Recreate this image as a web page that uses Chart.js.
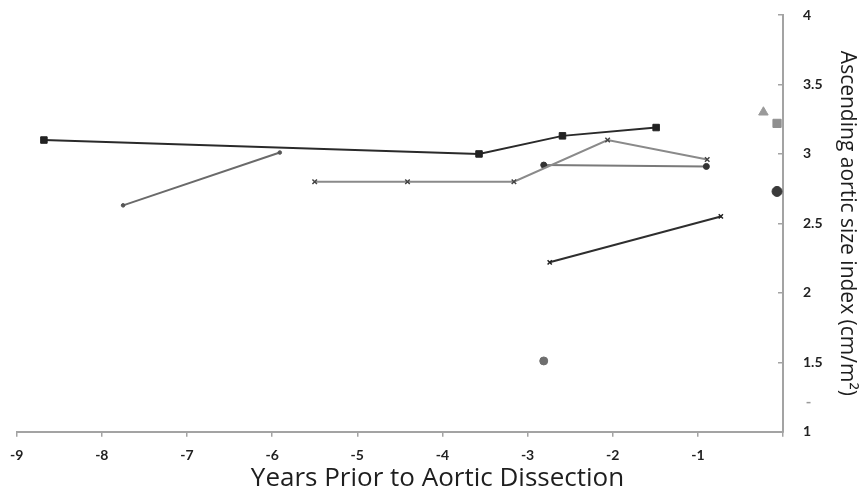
<!DOCTYPE html>
<html>
<head>
<meta charset="utf-8">
<script src="https://cdn.jsdelivr.net/npm/chart.js@4/dist/chart.umd.min.js"></script>
<style>
  html, body { margin: 0; padding: 0; background: #fff; }
  #wrap { width: 860px; height: 494px; }
</style>
</head>
<body>
<div id="wrap"><canvas id="c" width="860" height="494"></canvas></div>
<script>
// ---- data ----
const xTicks = [-9, -8, -7, -6, -5, -4, -3, -2, -1, 0];
const yTicks = [1, 1.5, 2, 2.5, 3, 3.5, 4];

const s1x = [-8.68, -3.57, -2.59, -1.49];
const s1y = [3.10, 3.00, 3.13, 3.19];

const s2x = [-7.75, -5.91];
const s2y = [2.63, 3.01];

const s3x = [-5.50, -4.41, -3.16, -2.06, -0.89];
const s3y = [2.80, 2.80, 2.80, 3.10, 2.96];

const s4x = [-2.81, -0.90];
const s4y = [2.92, 2.91];

const s5x = [-2.74, -0.73];
const s5y = [2.22, 2.55];

const triX = [-0.23], triY = [3.30];
const sqX = [-0.07], sqY = [3.22];
const dotX = [-0.07], dotY = [2.73];
const lowX = [-2.81], lowY = [1.51];
const dashX = [0.30], dashY = [1.21];

const xTitle = 'Years Prior to Aortic Dissection';
const yTitle = 'Ascending aortic size index (cm/m\u00B2)';

function pts(xs, ys) { return xs.map((x, i) => ({ x: x, y: ys[i] })); }

const TICKFONT = 'Lato, "Noto Sans", sans-serif';
const TITLEFONT = '"Open Sans", "Noto Sans", sans-serif';
const axisColor = '#a3a3a3';

const datasets = [
  { data: pts(s1x, s1y), showLine: true, borderColor: '#2a2a2a', borderWidth: 2,
    pointStyle: 'rect', pointRadius: 4.6, pointBackgroundColor: '#222', pointBorderColor: '#222', pointBorderWidth: 1 },
  { data: pts(s2x, s2y), showLine: true, borderColor: '#6a6a6a', borderWidth: 2,
    pointStyle: 'circle', pointRadius: 1.8, pointBackgroundColor: '#555', pointBorderColor: '#555', pointBorderWidth: 1 },
  { data: pts(s3x, s3y), showLine: true, borderColor: '#8a8a8a', borderWidth: 2,
    pointStyle: 'crossRot', pointRadius: 3.2, pointBackgroundColor: '#444', pointBorderColor: '#444', pointBorderWidth: 1.5 },
  { data: pts(s4x, s4y), showLine: true, borderColor: '#7a7a7a', borderWidth: 2,
    pointStyle: 'circle', pointRadius: 3, pointBackgroundColor: '#333', pointBorderColor: '#333', pointBorderWidth: 1 },
  { data: pts(s5x, s5y), showLine: true, borderColor: '#2e2e2e', borderWidth: 2,
    pointStyle: 'crossRot', pointRadius: 3, pointBackgroundColor: '#222', pointBorderColor: '#222', pointBorderWidth: 1.5 },
  { data: pts(triX, triY), showLine: false, pointStyle: 'triangle', pointRadius: 5.5,
    pointBackgroundColor: '#9a9a9a', pointBorderColor: '#9a9a9a', pointBorderWidth: 1 },
  { data: pts(sqX, sqY), showLine: false, pointStyle: 'rect', pointRadius: 5.8,
    pointBackgroundColor: '#8f8f8f', pointBorderColor: '#8f8f8f', pointBorderWidth: 1 },
  { data: pts(dotX, dotY), showLine: false, pointStyle: 'circle', pointRadius: 5,
    pointBackgroundColor: '#3a3a3a', pointBorderColor: '#3a3a3a', pointBorderWidth: 1 },
  { data: pts(lowX, lowY), showLine: false, pointStyle: 'circle', pointRadius: 4,
    pointBackgroundColor: '#6e6e6e', pointBorderColor: '#6e6e6e', pointBorderWidth: 1 }
];

// the small dash mark sits just outside the x range, so draw it through the scales here
const outsidePoint = {
  id: 'outsidePoint',
  afterDatasetsDraw(chart) {
    const xs = chart.scales.x, ys = chart.scales.y, ctx = chart.ctx;
    ctx.save();
    ctx.strokeStyle = '#9a9a9a';
    ctx.lineWidth = 1.5;
    dashX.forEach((v, i) => {
      const px = xs.getPixelForValue(v), py = ys.getPixelForValue(dashY[i]);
      ctx.beginPath();
      ctx.moveTo(px - 2, py);
      ctx.lineTo(px + 2, py);
      ctx.stroke();
    });
    ctx.restore();
  }
};

new Chart(document.getElementById('c'), {
  type: 'scatter',
  data: { datasets: datasets },
  plugins: [outsidePoint],
  options: {
    responsive: false,
    animation: false,
    events: [],
    layout: { padding: { left: 15, top: 15, right: 0, bottom: 0 } },
    plugins: {
      legend: { display: false },
      tooltip: { enabled: false },
      title: {
        display: true, text: xTitle, position: 'bottom',
        color: '#1e1e1e', font: { family: TITLEFONT, size: 26, weight: 'normal' },
        padding: { top: 0, bottom: 0 }
      }
    },
    scales: {
      x: {
        type: 'linear', min: xTicks[0], max: xTicks[xTicks.length - 1],
        afterBuildTicks: (s) => { s.ticks = xTicks.map(v => ({ value: v })); },
        afterFit: (s) => { s.height = 31; },
        border: { display: true, color: axisColor, width: 2 },
        grid: { drawOnChartArea: false, drawTicks: true, tickLength: 5, color: axisColor, lineWidth: 1.5 },
        ticks: {
          color: '#222', padding: 10, maxRotation: 0, autoSkip: false,
          font: { family: TICKFONT, size: 14, weight: 'bold' },
          callback: (v) => (v === 0 ? '' : String(v))
        }
      },
      y: {
        type: 'linear', position: 'right', min: yTicks[0], max: yTicks[yTicks.length - 1],
        afterBuildTicks: (s) => { s.ticks = yTicks.map(v => ({ value: v })); },
        afterFit: (s) => { s.width = 77; s.paddingTop = 8; s.paddingBottom = 8; },
        border: { display: true, color: axisColor, width: 2 },
        grid: { drawOnChartArea: false, drawTicks: true, tickLength: -5, color: axisColor, lineWidth: 1.5 },
        ticks: {
          color: '#222', padding: 25, autoSkip: false,
          font: { family: TICKFONT, size: 14, weight: 'bold' },
          callback: (v) => String(v)
        },
        title: {
          display: true, text: yTitle, color: '#1e1e1e',
          font: { family: TITLEFONT, size: 21, weight: 'normal' }, padding: 0
        }
      }
    }
  }
});
</script>
</body>
</html>
